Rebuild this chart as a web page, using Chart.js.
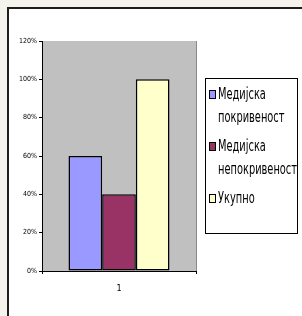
<!DOCTYPE html>
<html><head><meta charset="utf-8">
<script src="https://cdn.jsdelivr.net/npm/chart.js@4/dist/chart.umd.min.js"></script>
<style>html,body{margin:0;padding:0;background:#f4f3ec;overflow:hidden}canvas{display:block}</style>
</head><body>
<canvas id="c" width="302" height="316" style="width:302px;height:316px"></canvas>
<script>
const categories = ['1'];
const seriesNames = ['Медијска покривеност', 'Медијска непокривеност', 'Укупно'];
const coverage = [0.6];
const noCoverage = [0.4];
const total = [1.0];
const yTickLabels = ['0%', '20%', '40%', '60%', '80%', '100%', '120%'];

const FONT = '"Liberation Sans Narrow", "DejaVu Sans Condensed", "Liberation Sans", Arial, sans-serif';

const frame = {
  id: 'frame',
  beforeDraw(chart) {
    const ctx = chart.ctx, ca = chart.chartArea;
    ctx.save();
    ctx.fillStyle = '#f4f3ec'; ctx.fillRect(0, 0, 302, 316);
    ctx.fillStyle = '#ffffff'; ctx.fillRect(8, 8, 294, 308);
    ctx.fillStyle = '#1e1e1e'; ctx.fillRect(7, 7, 295, 2); ctx.fillRect(7, 7, 2, 309);
    ctx.fillStyle = '#c0c0c0'; ctx.fillRect(ca.left, ca.top, ca.right - ca.left, ca.bottom - ca.top);
    ctx.strokeStyle = '#8a8a8a'; ctx.lineWidth = 1;
    ctx.beginPath(); ctx.moveTo(ca.right + 0.5, ca.top); ctx.lineTo(ca.right + 0.5, ca.bottom + 3); ctx.stroke();
    ctx.restore();
  },
  afterDraw(chart) {
    const ctx = chart.ctx;
    ctx.save();
    ctx.fillStyle = '#fff'; ctx.fillRect(205.5, 78.5, 92, 155);
    ctx.strokeStyle = '#000'; ctx.lineWidth = 1; ctx.strokeRect(205.5, 78.5, 92, 155);
    ctx.font = '15px ' + FONT;
    ctx.textBaseline = 'middle';
    let longest = 0;
    chart.data.datasets.forEach(ds => ds.label.split(' ').forEach(w => { longest = Math.max(longest, ctx.measureText(w).width); }));
    const sx = 79 / longest;
    let y = 94;
    chart.data.datasets.forEach(ds => {
      const words = ds.label.split(' ');
      ctx.fillStyle = ds.backgroundColor; ctx.fillRect(209, y - 4, 7, 9);
      ctx.strokeStyle = '#000'; ctx.strokeRect(209.5, y - 3.5, 6, 8);
      ctx.fillStyle = '#000';
      words.forEach((w, k) => {
        ctx.save();
        ctx.translate(218, y + k * 23 + 1);
        ctx.scale(sx, 1);
        ctx.fillText(w, 0, 0);
        ctx.restore();
      });
      y += (words.length - 1) * 23 + 29;
    });
    ctx.restore();
  }
};

const colors = ['#9999ff', '#993366', '#ffffcc'];
const seriesValues = [coverage, noCoverage, total];

new Chart(document.getElementById('c'), {
  type: 'bar',
  data: {
    labels: categories,
    datasets: seriesNames.map((name, i) => ({
      label: name,
      data: seriesValues[i],
      backgroundColor: colors[i],
      borderColor: '#000',
      borderWidth: 1.5,
      borderSkipped: false,
      categoryPercentage: 0.656,
      barPercentage: 1
    }))
  },
  options: {
    responsive: false,
    animation: false,
    devicePixelRatio: 1,
    layout: { padding: { left: 8, top: 41, right: 106, bottom: 0 } },
    plugins: { legend: { display: false }, tooltip: { enabled: false } },
    scales: {
      x: {
        grid: { display: true, drawOnChartArea: false, drawTicks: true, tickLength: 3, color: '#000', offset: true },
        border: { color: '#000', width: 1 },
        ticks: { color: '#000', font: { size: 9, family: FONT }, padding: 9 },
        afterFit: s => { s.height = 45; }
      },
      y: {
        min: 0, max: 1.2,
        ticks: { stepSize: 0.2, color: '#000', font: { size: 7, family: FONT }, padding: 2,
                 callback: (v, i) => yTickLabels[i] },
        grid: { drawOnChartArea: false, tickLength: 3, color: '#000' },
        border: { color: '#000', width: 1 },
        afterFit: s => { s.width = 34; }
      }
    }
  },
  plugins: [frame]
});
</script>
</body></html>
